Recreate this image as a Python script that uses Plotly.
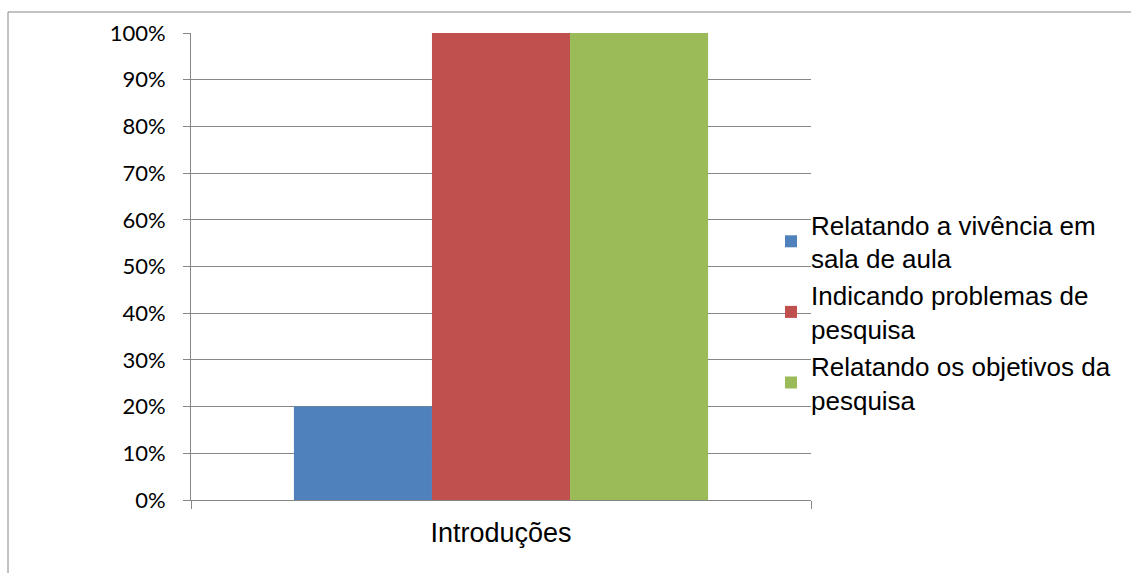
import plotly.graph_objects as go

categories = ["Introduções"]
series_names = [
    "Relatando a vivência em<br>sala de aula",
    "Indicando problemas de<br>pesquisa",
    "Relatando os objetivos da<br>pesquisa",
]
series_values = [[0.20], [1.00], [1.00]]
colors = ["#4F81BD", "#C0504D", "#9BBB59"]

fig = go.Figure()
for name, vals, c in zip(series_names, series_values, colors):
    fig.add_trace(go.Bar(x=categories, y=vals, name=name, marker_color=c,
                         marker_line_width=0, legendgroup=name))

W, H = 1131, 573
L, R, T, B = 191, 320, 33, 73
pw, ph = W - L - R, H - T - B

def px_x(x):
    return (x - L) / pw

def px_y(y):
    return (H - B - y) / ph

fig.update_layout(
    width=W, height=H,
    margin=dict(l=L, r=R, t=T, b=B),
    paper_bgcolor="white", plot_bgcolor="white",
    barmode="group", bargap=0.332, bargroupgap=0,
    font=dict(family="Liberation Sans", color="black"),
    legend=dict(x=px_x(771), xanchor="left", y=px_y(312), yanchor="middle",
                bgcolor="rgba(0,0,0,0)", font=dict(family="Liberation Sans", size=26),
                tracegroupgap=0, traceorder="normal", itemwidth=30),
    showlegend=True,
)
fig.update_yaxes(range=[0, 1], dtick=0.1, tickformat=".0%", showgrid=True,
                 gridcolor="#868686", gridwidth=1, showline=True, linecolor="#868686",
                 ticks="outside", ticklen=7, tickcolor="#868686",
                 tickfont=dict(family="Lato", size=22), ticklabelstandoff=13,
                 zeroline=False)
fig.update_xaxes(showline=True, linecolor="#868686", ticks="outside", ticklen=8,
                 tickcolor="#868686", tickson="boundaries", ticklabelstandoff=9,
                 tickfont=dict(family="Liberation Sans", size=27))

fig.add_shape(type="line", xref="paper", yref="paper",
              x0=px_x(8), y0=px_y(12), x1=px_x(1140), y1=px_y(12),
              line=dict(color="#868686", width=1))
fig.add_shape(type="line", xref="paper", yref="paper",
              x0=px_x(8), y0=px_y(12), x1=px_x(8), y1=px_y(580),
              line=dict(color="#868686", width=1))

fig.write_html("out.html")
